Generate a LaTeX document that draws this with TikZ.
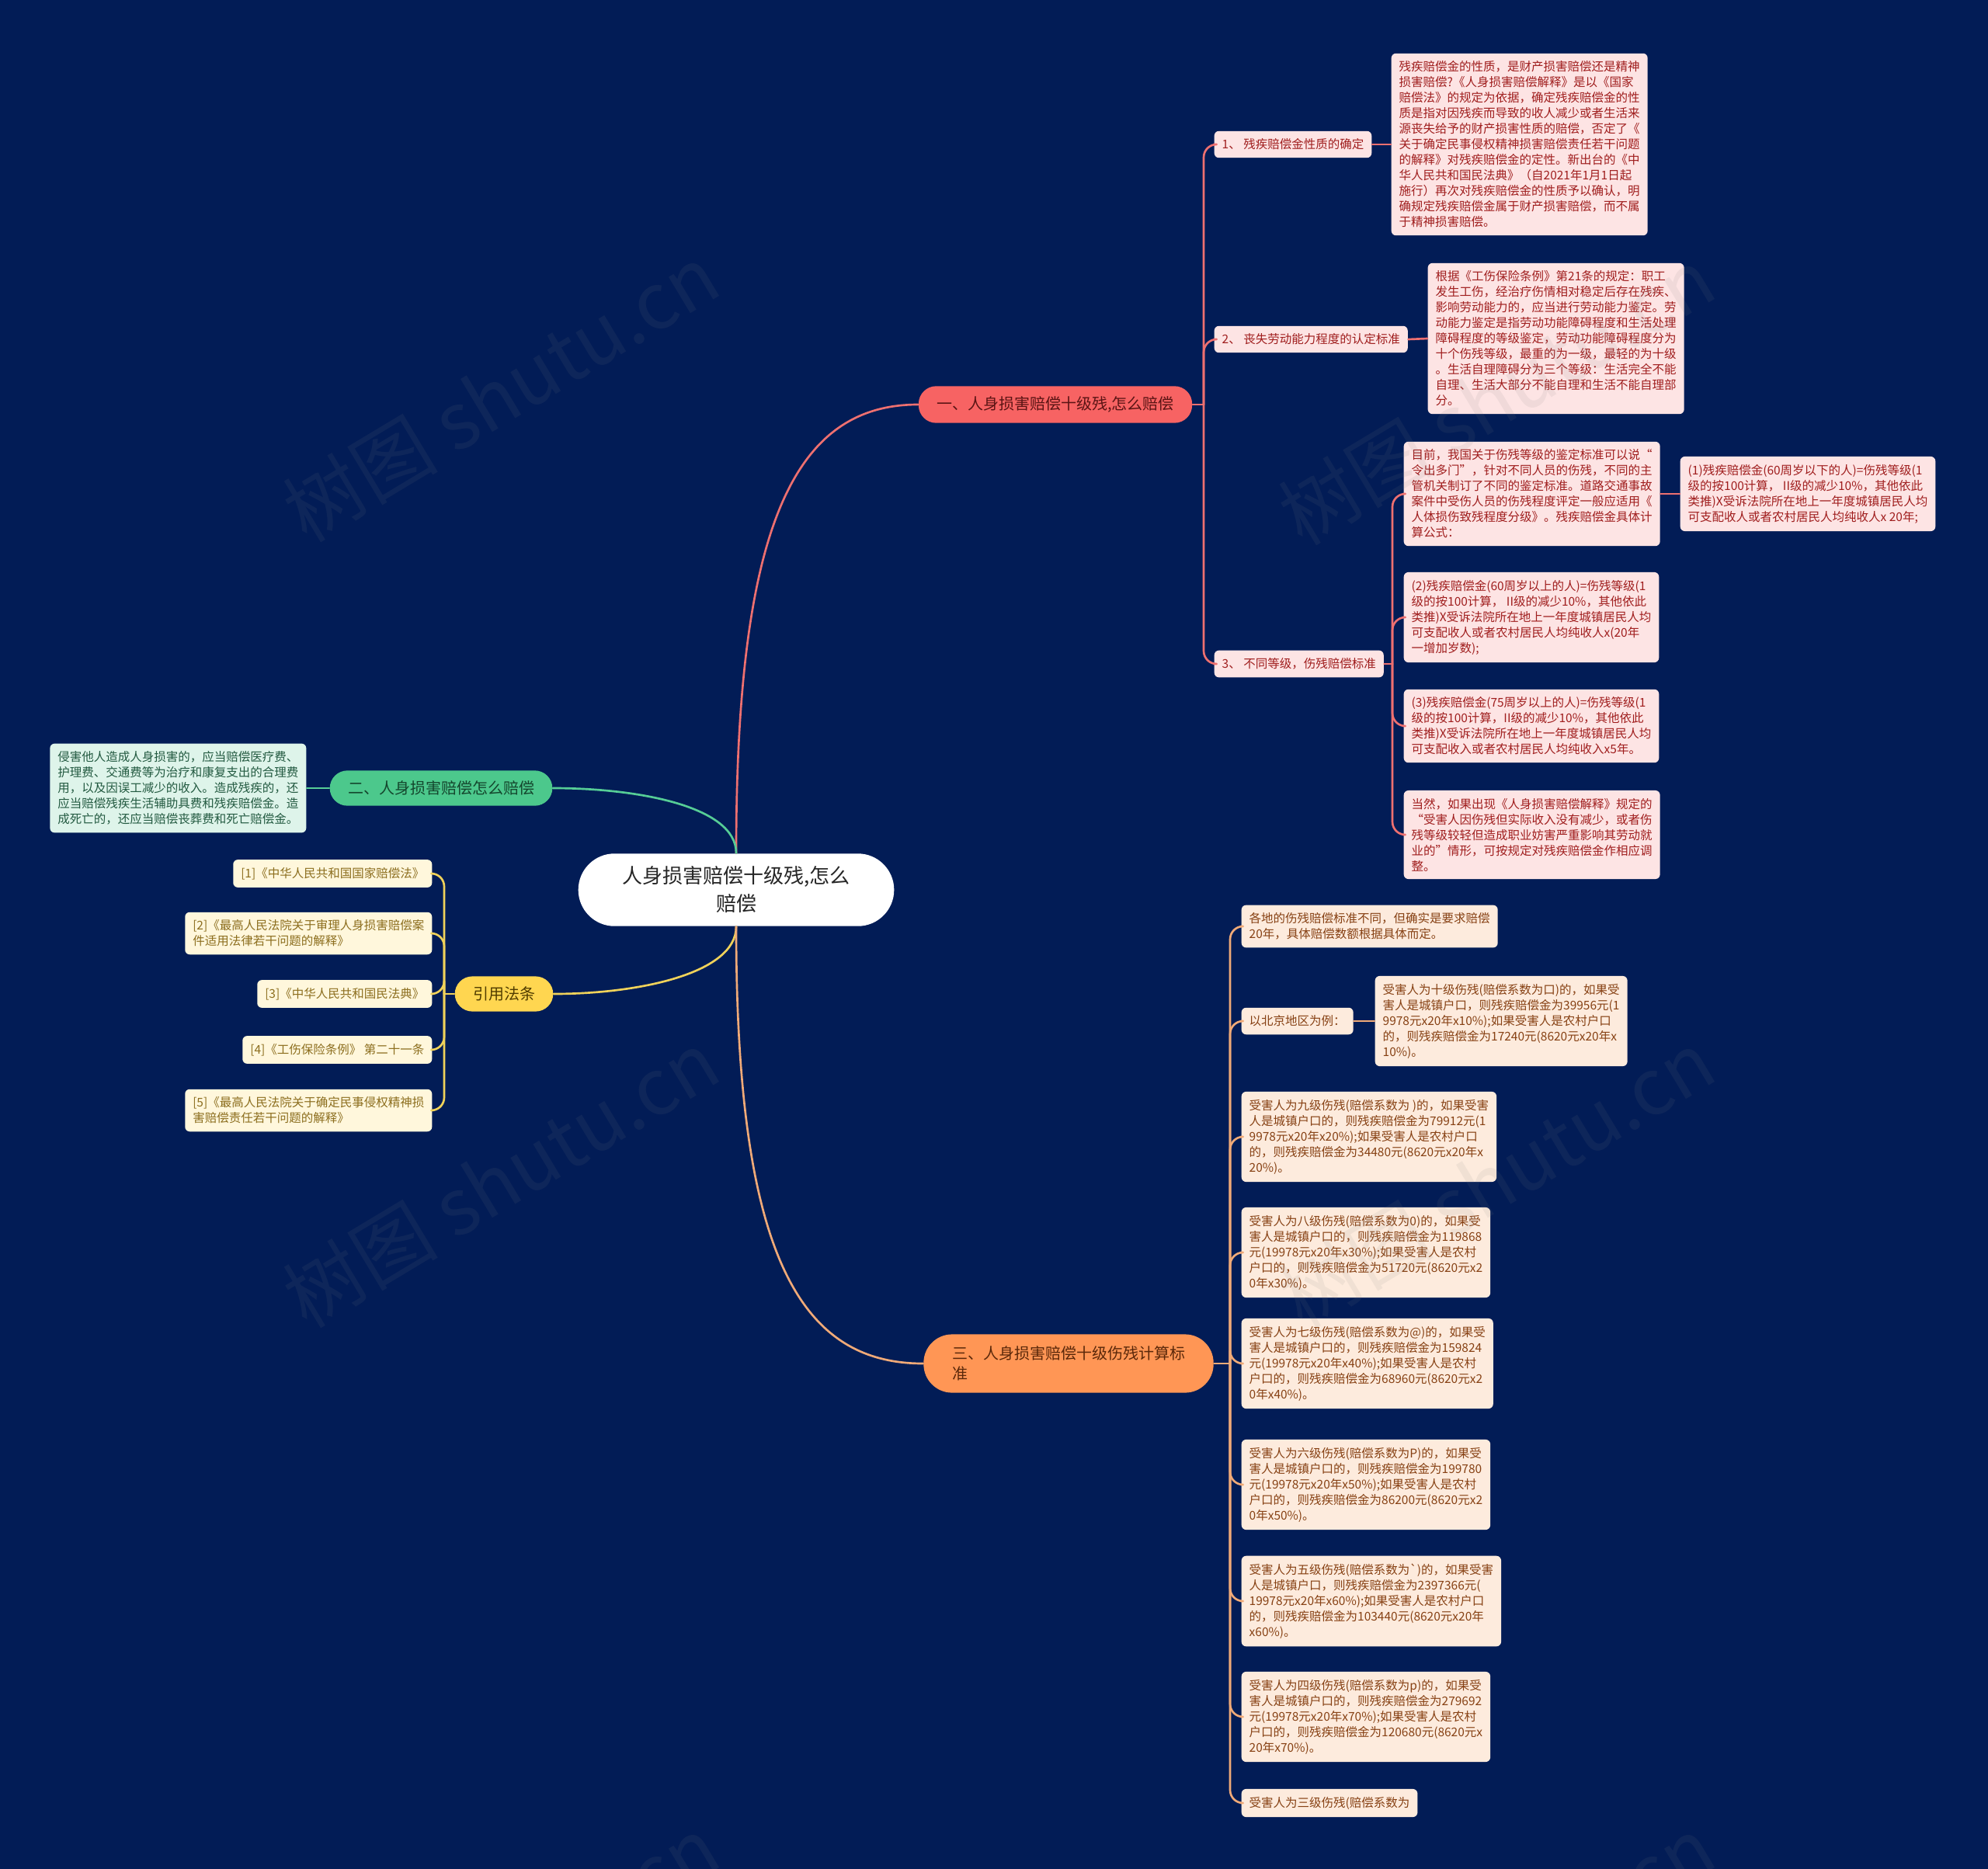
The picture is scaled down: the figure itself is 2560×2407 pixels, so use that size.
\documentclass[tikz,border=0pt]{standalone}
\usepackage{fontspec}
\setmainfont{Noto Sans CJK SC}
\definecolor{bgnavy}{RGB}{2,28,86}
\definecolor{redln}{RGB}{238,112,112}
\definecolor{redfill}{RGB}{247,99,99}
\definecolor{redtext}{RGB}{90,20,20}
\definecolor{pinkfill}{RGB}{253,228,228}
\definecolor{pinktext}{RGB}{160,30,30}
\definecolor{greenln}{RGB}{86,205,150}
\definecolor{greenfill}{RGB}{76,200,140}
\definecolor{greentext}{RGB}{20,70,45}
\definecolor{mintfill}{RGB}{222,244,234}
\definecolor{minttext}{RGB}{35,90,65}
\definecolor{yellowln}{RGB}{240,210,90}
\definecolor{yellowfill}{RGB}{255,214,80}
\definecolor{yellowtext}{RGB}{80,60,0}
\definecolor{creamfill}{RGB}{255,247,220}
\definecolor{creamtext}{RGB}{140,110,30}
\definecolor{orangeln}{RGB}{240,170,120}
\definecolor{orangefill}{RGB}{255,150,85}
\definecolor{orangetext}{RGB}{90,40,10}
\definecolor{peachfill}{RGB}{253,235,221}
\definecolor{peachtext}{RGB}{135,65,20}
\begin{document}
\begin{tikzpicture}[x=0.3pt,y=-0.3pt,line cap=round,line join=round,
    rootbox/.style={fill=white,rounded corners=14pt,align=center,text width=92pt,inner xsep=15pt,inner ysep=5pt,font=\fontsize{7.8}{10.8}\selectfont,text=black!85},
    mainbox/.style={rounded corners=6.8pt,align=left,inner xsep=7pt,inner ysep=4pt,font=\fontsize{6}{7.8}\selectfont},
    leafbox/.style={rounded corners=1.8pt,align=left,inner xsep=3pt,inner ysep=3pt,font=\fontsize{4.65}{6}\selectfont},
    redleaf/.style={leafbox,fill=pinkfill,text=pinktext},
    mintleaf/.style={leafbox,fill=mintfill,text=minttext},
    creamleaf/.style={leafbox,fill=creamfill,text=creamtext},
    peachleaf/.style={leafbox,fill=peachfill,text=peachtext},
    link/.style={line width=0.8pt},
    elbow/.style={link,rounded corners=5pt},
    wmark/.style={rotate=31,text=gray,opacity=0.1,font=\fontsize{30}{30}\selectfont}]
\useasboundingbox (0,0) rectangle (2560,2407);
\fill[bgnavy] (0,0) rectangle (2560,2407);

% centre and main branches
\node[rootbox] (root) at (948,1146) {人身损害赔偿十级残,怎么\\赔偿};
\node[mainbox,fill=redfill,text=redtext] (one) at (1359,521) {一、人身损害赔偿十级残,怎么赔偿};
\node[mainbox,fill=greenfill,text=greentext] (two) at (568,1015) {二、人身损害赔偿怎么赔偿};
\node[mainbox,fill=yellowfill,text=yellowtext] (laws) at (649,1280) {引用法条};
\node[mainbox,fill=orangefill,text=orangetext,rounded corners=11pt,inner xsep=11pt,inner ysep=4.6pt] (three) at (1376,1756) {三、人身损害赔偿十级伤残计算标\\准};

\draw[link,redln] (root.north) .. controls +(0,-420) and +(-160,0) .. (one.west);
\draw[link,greenln] (root.north) .. controls +(0,-60) and +(110,0) .. (two.east);
\draw[link,yellowln] (root.south) .. controls +(0,60) and +(110,0) .. (laws.east);
\draw[link,orangeln] (root.south) .. controls +(0,420) and +(-160,0) .. (three.west);

% branch one
\node[redleaf,anchor=west] (s1) at (1563,186) {1、 残疾赔偿金性质的确定};
\node[redleaf,anchor=west] (s2) at (1563,437) {2、 丧失劳动能力程度的认定标准};
\node[redleaf,anchor=west] (s3) at (1563,855) {3、 不同等级，伤残赔偿标准};
\node[redleaf,anchor=west] (nature) at (1791,186) {残疾赔偿金的性质，是财产损害赔偿还是精神\\损害赔偿?《人身损害赔偿解释》是以《国家\\赔偿法》的规定为依据，确定残疾赔偿金的性\\质是指对因残疾而导致的收人减少或者生活来\\源丧失给予的财产损害性质的赔偿，否定了《\\关于确定民事侵权精神损害赔偿责任若干问题\\的解释》对残疾赔偿金的定性。新出台的《中\\华人民共和国民法典》（自2021年1月1日起\\施行）再次对残疾赔偿金的性质予以确认，明\\确规定残疾赔偿金属于财产损害赔偿，而不属\\于精神损害赔偿。};
\node[redleaf,anchor=west] (labour) at (1838,436) {根据《工伤保险条例》第21条的规定：职工\\发生工伤，经治疗伤情相对稳定后存在残疾、\\影响劳动能力的，应当进行劳动能力鉴定。劳\\动能力鉴定是指劳动功能障碍程度和生活处理\\障碍程度的等级鉴定，劳动功能障碍程度分为\\十个伤残等级，最重的为一级，最轻的为十级\\。生活自理障碍分为三个等级：生活完全不能\\自理、生活大部分不能自理和生活不能自理部\\分。};
\node[redleaf,anchor=west] (current) at (1807,636) {目前，我国关于伤残等级的鉴定标准可以说“\\令出多门”，针对不同人员的伤残，不同的主\\管机关制订了不同的鉴定标准。道路交通事故\\案件中受伤人员的伤残程度评定一般应适用《\\人体损伤致残程度分级》。残疾赔偿金具体计\\算公式：};
\node[redleaf,anchor=west] (under60) at (2163,636) {(1)残疾赔偿金(60周岁以下的人)=伤残等级(1\\级的按100计算， II级的减少10\%，其他依此\\类推)X受诉法院所在地上一年度城镇居民人均\\可支配收人或者农村居民人均纯收人x 20年;};
\node[redleaf,anchor=west] (over60) at (1807,795) {(2)残疾赔偿金(60周岁以上的人)=伤残等级(1\\级的按100计算， II级的减少10\%，其他依此\\类推)X受诉法院所在地上一年度城镇居民人均\\可支配收人或者农村居民人均纯收人x(20年\\一增加岁数);};
\node[redleaf,anchor=west] (over75) at (1807,935) {(3)残疾赔偿金(75周岁以上的人)=伤残等级(1\\级的按100计算，II级的减少10\%，其他依此\\类推)X受诉法院所在地上一年度城镇居民人均\\可支配收入或者农村居民人均纯收入x5年。};
\node[redleaf,anchor=west] (adjust) at (1807,1075) {当然，如果出现《人身损害赔偿解释》规定的\\ “受害人因伤残但实际收入没有减少，或者伤\\残等级较轻但造成职业妨害严重影响其劳动就\\业的”情形，可按规定对残疾赔偿金作相应调\\整。};

\coordinate (j1) at (1550,521);
\coordinate (j13) at (1793,855);
\draw[link,redln] (one.east) -- (j1);
\foreach \n in {s1,s2,s3} \draw[elbow,redln] (j1) |- (\n.west);
\draw[link,redln] (s1.east) -- (nature.west);
\draw[link,redln] (s2.east) -- (labour.west);
\draw[link,redln] (s3.east) -- (j13);
\foreach \n in {current,over60,over75,adjust} \draw[elbow,redln] (j13) |- (\n.west);
\draw[link,redln] (current.east) -- (under60.west);

% branch two
\node[mintleaf,anchor=east] (harm) at (395,1015) {侵害他人造成人身损害的，应当赔偿医疗费、\\护理费、交通费等为治疗和康复支出的合理费\\用，以及因误工减少的收入。造成残疾的，还\\应当赔偿残疾生活辅助具费和残疾赔偿金。造\\成死亡的，还应当赔偿丧葬费和死亡赔偿金。};
\draw[link,greenln] (two.west) -- (harm.east);

% cited laws
\node[creamleaf,anchor=east] (r1) at (557,1125) {[1]《中华人民共和国国家赔偿法》};
\node[creamleaf,anchor=east] (r2) at (557,1202) {[2]《最高人民法院关于审理人身损害赔偿案\\件适用法律若干问题的解释》};
\node[creamleaf,anchor=east] (r3) at (557,1280) {[3]《中华人民共和国民法典》};
\node[creamleaf,anchor=east] (r4) at (557,1352) {[4]《工伤保险条例》 第二十一条};
\node[creamleaf,anchor=east] (r5) at (557,1430) {[5]《最高人民法院关于确定民事侵权精神损\\害赔偿责任若干问题的解释》};
\coordinate (j3) at (572,1280);
\draw[link,yellowln] (laws.west) -- (j3);
\foreach \n in {r1,r2,r3,r4,r5} \draw[elbow,yellowln] (j3) |- (\n.east);

% branch three
\node[peachleaf,anchor=west] (u1) at (1598,1193) {各地的伤残赔偿标准不同，但确实是要求赔偿\\20年，具体赔偿数额根据具体而定。};
\node[peachleaf,anchor=west] (u2) at (1598,1315) {以北京地区为例：};
\node[peachleaf,anchor=west] (ten) at (1770,1315) {受害人为十级伤残(赔偿系数为口)的，如果受\\害人是城镇户口，则残疾赔偿金为39956元(1\\9978元x20年x10\%);如果受害人是农村户口\\的，则残疾赔偿金为17240元(8620元x20年x\\10\%)。};
\node[peachleaf,anchor=west] (nine) at (1598,1464) {受害人为九级伤残(赔偿系数为 )的，如果受害\\人是城镇户口的，则残疾赔偿金为79912元(1\\9978元x20年x20\%);如果受害人是农村户口\\的，则残疾赔偿金为34480元(8620元x20年x\\20\%)。};
\node[peachleaf,anchor=west] (eight) at (1598,1613) {受害人为八级伤残(赔偿系数为0)的，如果受\\害人是城镇户口的，则残疾赔偿金为119868\\元(19978元x20年x30\%);如果受害人是农村\\户口的，则残疾赔偿金为51720元(8620元x2\\0年x30\%)。};
\node[peachleaf,anchor=west] (seven) at (1598,1756) {受害人为七级伤残(赔偿系数为@)的，如果受\\害人是城镇户口的，则残疾赔偿金为159824\\元(19978元x20年x40\%);如果受害人是农村\\户口的，则残疾赔偿金为68960元(8620元x2\\0年x40\%)。};
\node[peachleaf,anchor=west] (six) at (1598,1912) {受害人为六级伤残(赔偿系数为P)的，如果受\\害人是城镇户口的，则残疾赔偿金为199780\\元(19978元x20年x50\%);如果受害人是农村\\户口的，则残疾赔偿金为86200元(8620元x2\\0年x50\%)。};
\node[peachleaf,anchor=west] (five) at (1598,2062) {受害人为五级伤残(赔偿系数为\textasciigrave)的，如果受害\\人是城镇户口，则残疾赔偿金为2397366元(\\19978元x20年x60\%);如果受害人是农村户口\\的，则残疾赔偿金为103440元(8620元x20年\\x60\%)。};
\node[peachleaf,anchor=west] (four) at (1598,2211) {受害人为四级伤残(赔偿系数为p)的，如果受\\害人是城镇户口的，则残疾赔偿金为279692\\元(19978元x20年x70\%);如果受害人是农村\\户口的，则残疾赔偿金为120680元(8620元x\\20年x70\%)。};
\node[peachleaf,anchor=west] (u9) at (1598,2322) {受害人为三级伤残(赔偿系数为};
\coordinate (j4) at (1584,1756);
\draw[link,orangeln] (three.east) -- (j4);
\foreach \n in {u1,u2,nine,eight,seven,six,five,four,u9} \draw[elbow,orangeln] (j4) |- (\n.west);
\draw[link,orangeln] (u2.east) -- (ten.west);

% watermark
\foreach \wx/\wy in {645/506,1927/510,645/1518,1927/1518,645/2530,1927/2530}
  \node[wmark] at (\wx,\wy) {树图 shutu.cn};
\end{tikzpicture}
\end{document}
